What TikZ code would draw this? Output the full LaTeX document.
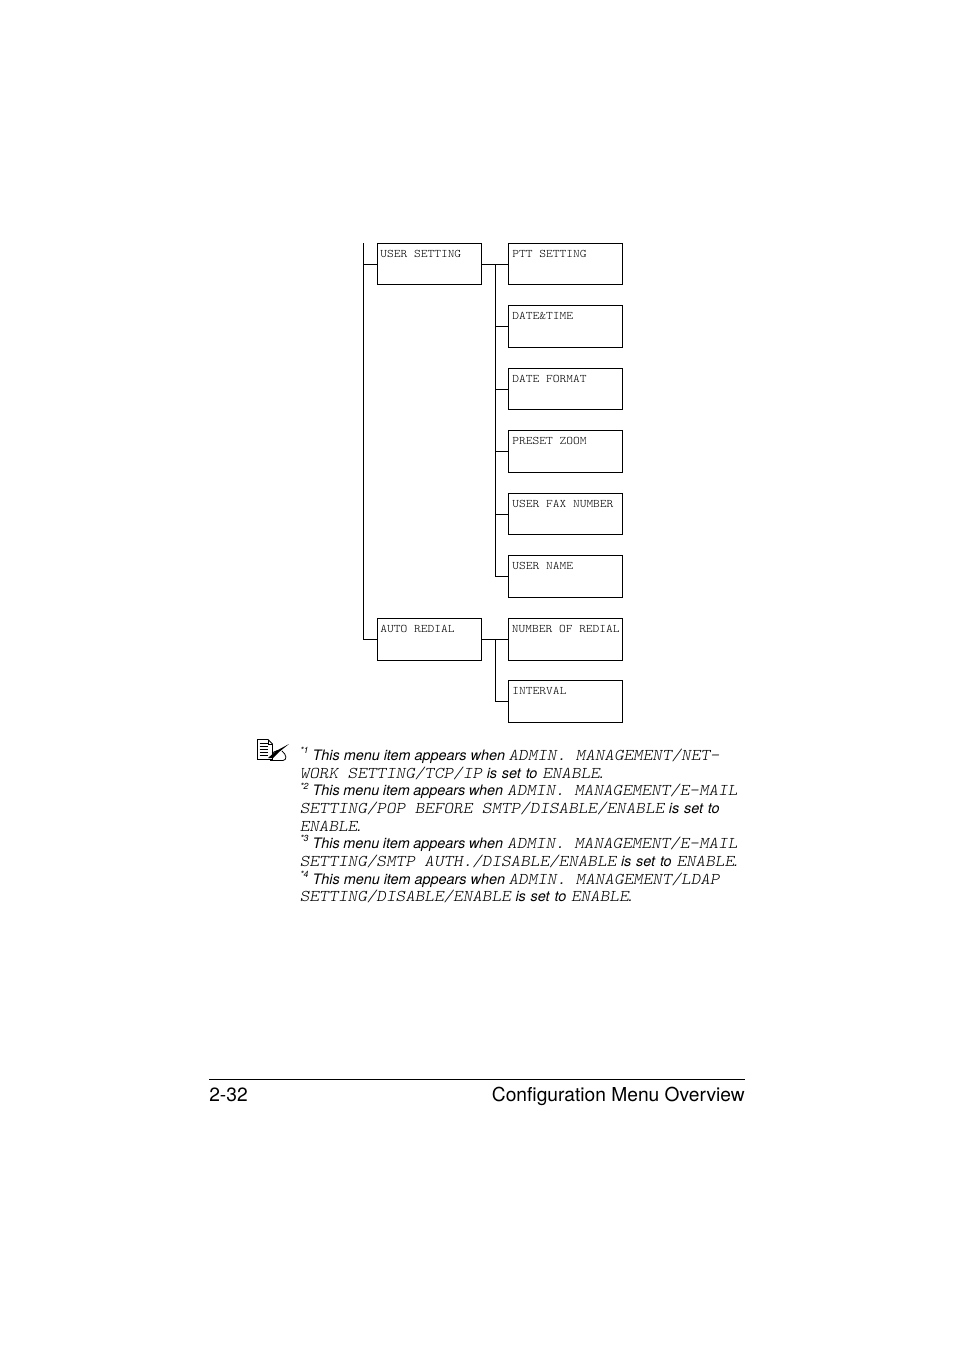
\documentclass[tikz,border=0pt]{standalone}
\usepackage{fontspec}
\setmainfont{TeX Gyre Heros}
\setmonofont{Latin Modern Mono Light}
\newcommand{\mm}[1]{\scalebox{1}[0.9]{\fontsize{13.7}{15}\selectfont\ttfamily\itshape #1}}
\newcommand{\lbl}[1]{\scalebox{1}[0.9]{#1}}
\newcommand{\nsup}[1]{\raisebox{0.42em}{\fontsize{6.6}{8}\selectfont\itshape #1}}
\newcommand{\tightw}[1]{{\spaceskip=2.65pt\relax #1}}
\newcommand{\loosew}[1]{{\spaceskip=3.6pt\relax #1}}
\tikzset{
  menubox/.style={draw=black,line width=0.75pt,inner sep=0pt,outer sep=0pt,anchor=north west,minimum height=#1*0.75pt},
  narrowbox/.style={menubox=#1,minimum width=104*0.75pt},
  widebox/.style={menubox=#1,minimum width=114*0.75pt},
  boxlabel/.style={anchor=base west,inner sep=0pt,font=\fontsize{9.64}{10}\selectfont\ttfamily,text=black},
  noteline/.style={anchor=base west,inner sep=0pt,font=\fontsize{10.8}{13}\selectfont\itshape},
  wire/.style={line width=0.75pt},
  footer/.style={inner sep=0pt,font=\fontsize{14.4}{18}\selectfont}
}
\begin{document}
\begin{tikzpicture}[x=0.75pt,y=-0.75pt]
\useasboundingbox (0,0) rectangle (954,1350);
\fill[white] (0,0) rectangle (954,1350);
% boxes
\node[narrowbox=41] (us) at (377.5,243.5) {};
\node[narrowbox=42] (ar) at (377.5,618.5) {};
\node[widebox=41] (ptt) at (508.5,243.5) {};
\node[widebox=42] (dt) at (508.5,305.5) {};
\node[widebox=41] (df) at (508.5,368.5) {};
\node[widebox=42] (pz) at (508.5,430.5) {};
\node[widebox=41] (uf) at (508.5,493.5) {};
\node[widebox=42] (un) at (508.5,555.5) {};
\node[widebox=42] (nr) at (508.5,618.5) {};
\node[widebox=42] (iv) at (508.5,680.5) {};
\node[boxlabel] (tus) at (380,257) {\lbl{USER SETTING}};
\node[boxlabel] (tar) at (380,632) {\lbl{AUTO REDIAL}};
\node[boxlabel] (tptt) at (512,257) {\lbl{PTT SETTING}};
\node[boxlabel] (tdt) at (512,319) {\lbl{DATE\&TIME}};
\node[boxlabel] (tdf) at (512,382) {\lbl{DATE FORMAT}};
\node[boxlabel] (tpz) at (512,444) {\lbl{PRESET ZOOM}};
\node[boxlabel] (tuf) at (512,507) {\lbl{USER FAX NUMBER}};
\node[boxlabel] (tun) at (512,569) {\lbl{USER NAME}};
\node[boxlabel] (tnr) at (511.5,632) {\lbl{NUMBER OF REDIAL}};
\node[boxlabel] (tiv) at (512,694) {\lbl{INTERVAL}};
% connectors
\coordinate (railtop) at (363.5,243);
\draw[wire] (railtop) |- (ar.west);
\draw[wire] (railtop |- us.west) -- (us.west);
\draw[wire] (us.east) -- (ptt.west);
\coordinate (bus1) at (495.5,264);
\draw[wire] (bus1) |- (un.west);
\foreach \t in {dt,df,pz,uf} \draw[wire] (bus1 |- \t.west) -- (\t.west);
\draw[wire] (ar.east) -- (nr.west);
\coordinate (bus2) at (495.5,639.5);
\draw[wire] (bus2) |- (iv.west);
% note icon
\begin{scope}[line width=0.6pt]
\draw (257.5,739.5) -- (268,739.5) -- (272.5,744) -- (272.5,759.5) -- (257.5,759.5) -- cycle;
\draw (268,739.5) -- (268,744) -- (272.5,744);
\foreach \yy in {743.5,746.5,749.5,752.5,755.5} \draw (259.5,\yy) -- (268,\yy);
\fill (268,758) -- (276,751) -- (289,744) -- (279,752) -- (273,758) -- cycle;
\draw (270,760.5) -- (283,760.5) .. controls (287,760) and (287,755) .. (282,751);
\draw (272,753) .. controls (276,751) and (278,750) .. (281,750);
\end{scope}
% note text
\node[noteline] (n1) at (300,760) {\nsup{*1} This menu item appears when\hspace{-0.4pt} \mm{ADMIN. MANAGEMENT/NET-}};
\node[noteline] (n2) at (299.5,778) {\mm{WORK SETTING/TCP/IP}\loosew{ is set to }\mm{ENABLE}.};
\node[noteline] (n3) at (300,795.5) {\nsup{*2} \tightw{This menu item appears when} \mm{ADMIN. MANAGEMENT/E-MAIL}};
\node[noteline] (n4) at (299.5,813) {\mm{SETTING/POP BEFORE SMTP/DISABLE/ENABLE}\loosew{ is set to}};
\node[noteline] (n5) at (299.5,831) {\mm{ENABLE}.};
\node[noteline] (n6) at (300,848) {\nsup{*3} \tightw{This menu item appears when} \mm{ADMIN. MANAGEMENT/E-MAIL}};
\node[noteline] (n7) at (299.5,866) {\mm{SETTING/SMTP AUTH./DISABLE/ENABLE}\loosew{ is set to }\mm{ENABLE}.};
\node[noteline] (n8) at (300,884) {\nsup{*4} This menu item appears when\hspace{-0.4pt} \mm{ADMIN. MANAGEMENT/LDAP}};
\node[noteline] (n9) at (299.5,901) {\mm{SETTING/DISABLE/ENABLE}\loosew{ is set to }\mm{ENABLE}.};
% footer
\coordinate (rulea) at (209,1079.5);
\coordinate (ruleb) at (745,1079.5);
\draw[line width=0.75pt] (rulea) -- (ruleb);
\node[footer,anchor=base west] (pg) at (209,1101) {2-32};
\node[footer,anchor=base east] (ttl) at (745,1101) {Configuration Menu Overview};
\end{tikzpicture}
\end{document}
